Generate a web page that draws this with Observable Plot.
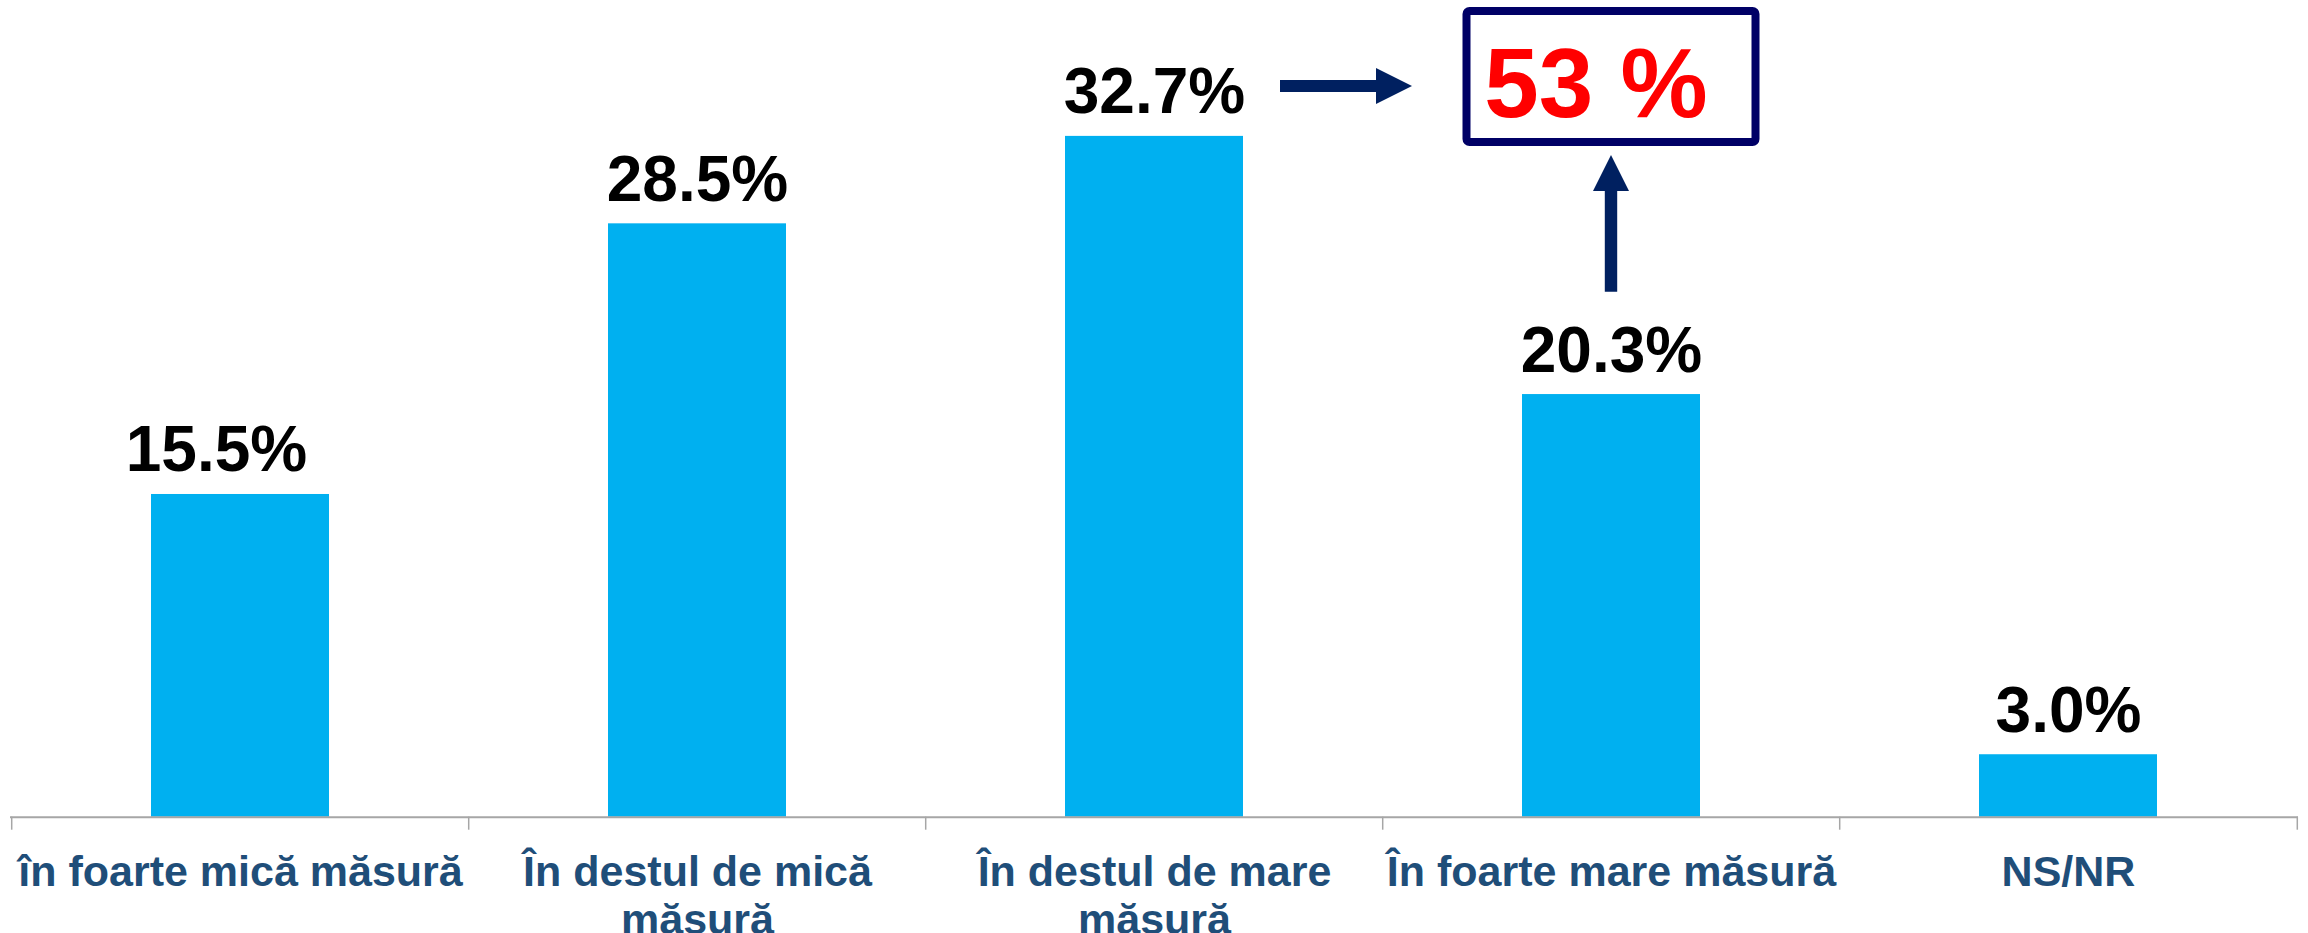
<!DOCTYPE html>
<html>
<head>
<meta charset="utf-8">
<script src="https://cdn.jsdelivr.net/npm/d3@7"></script>
<script src="https://cdn.jsdelivr.net/npm/@observablehq/plot@0.6"></script>
<style>
  html, body { margin: 0; padding: 0; background: #ffffff; }
  #chart { width: 2308px; height: 933px; }
</style>
</head>
<body>
<div id="chart"></div>
<script>
// ---- data ----
const categories = [
  "în foarte mică măsură",
  "În destul de mică măsură",
  "În destul de mare măsură",
  "În foarte mare măsură",
  "NS/NR"
];
const values = [15.5, 28.5, 32.7, 20.3, 3.0];
const tickLabels = [
  "în foarte mică măsură",
  "În destul de mică\nmăsură",
  "În destul de mare\nmăsură",
  "În foarte mare măsură",
  "NS/NR"
];
const highlightCategories = ["În destul de mare măsură", "În foarte mare măsură"];

// ---- build ----
const data = categories.map((c, i) => ({category: c, value: values[i], label: tickLabels[i]}));
const total = d3.sum(data.filter(d => highlightCategories.includes(d.category)), d => d.value);

const W = 2308, H = 933;
const mL = 10, mR = 10, mT = 0, mB = 116.3;
const pxPerUnit = 20.82;
const step = (W - mL - mR) / categories.length;
const font = "'Liberation Sans', Arial, Helvetica, sans-serif";
const labelFmt = d => d.value.toFixed(1) + "%";

const plot = Plot.plot({
  width: W,
  height: H,
  marginLeft: mL,
  marginRight: mR,
  marginTop: mT,
  marginBottom: mB,
  style: {fontFamily: font, background: "#ffffff", overflow: "visible"},
  x: {domain: categories, paddingInner: 0.611, paddingOuter: 0.3055, axis: null, label: null},
  y: {domain: [0, (H - mB - mT) / pxPerUnit], axis: null, label: null},
  marks: [
    Plot.barY(data, {x: "category", y: "value", fill: "#00B0F0"}),
    Plot.ruleY([0], {stroke: "#A6A6A6", strokeWidth: 2}),
    Plot.axisX({ticks: categories, tickSize: 13, tickFormat: () => "", label: null, dx: -step / 2, stroke: "#A6A6A6", strokeWidth: 1.5}),
    Plot.axisX({ticks: categories.slice(-1), tickSize: 13, tickFormat: () => "", label: null, dx: step / 2, stroke: "#A6A6A6", strokeWidth: 1.5}),
    Plot.text(data, {
      x: "category", text: "label", frameAnchor: "bottom", lineAnchor: "top",
      dy: 35, fontSize: 43, fontWeight: "bold", fill: "#1F4E79", lineHeight: 1.11
    }),
    Plot.text(data.slice(1), {
      x: "category", y: "value", text: labelFmt, lineAnchor: "bottom",
      dy: -23, fontSize: 64, fontWeight: "bold", fill: "#000000"
    }),
    Plot.text(data.slice(0, 1), {
      x: "category", y: "value", text: labelFmt, lineAnchor: "bottom",
      dy: -23, dx: -24, fontSize: 64, fontWeight: "bold", fill: "#000000"
    })
  ]
});

document.getElementById("chart").appendChild(plot);

// ---- annotation: sum of the two "mare" categories ----
const xs = plot.scale("x");
const cx = xs.apply(highlightCategories[1]) + xs.bandwidth / 2;
const svg = d3.select(plot);
const g = svg.append("g").attr("class", "annotation");

g.append("rect")
  .attr("x", cx - 144.5).attr("y", 11)
  .attr("width", 289).attr("height", 131)
  .attr("rx", 3).attr("ry", 3)
  .attr("fill", "#ffffff")
  .attr("stroke", "#000066")
  .attr("stroke-width", 8);

g.append("text")
  .attr("x", cx - 15).attr("y", 117)
  .attr("text-anchor", "middle")
  .attr("font-family", font)
  .attr("font-weight", "bold")
  .attr("font-size", 98)
  .attr("fill", "#FF0000")
  .text(`${total.toFixed(0)} %`);

// horizontal block arrow
const hy = 86;
g.append("path")
  .attr("fill", "#002060")
  .attr("d", [
    [cx - 331, hy - 6], [cx - 235, hy - 6], [cx - 235, hy - 18], [cx - 199, hy],
    [cx - 235, hy + 18], [cx - 235, hy + 6], [cx - 331, hy + 6]
  ].map((p, i) => (i ? "L" : "M") + p[0] + "," + p[1]).join("") + "Z");

// vertical block arrow
g.append("path")
  .attr("fill", "#002060")
  .attr("d", [
    [cx - 6.2, 291.7], [cx - 6.2, 191], [cx - 18, 191], [cx, 155],
    [cx + 18, 191], [cx + 6.2, 191], [cx + 6.2, 291.7]
  ].map((p, i) => (i ? "L" : "M") + p[0] + "," + p[1]).join("") + "Z");
</script>
</body>
</html>
